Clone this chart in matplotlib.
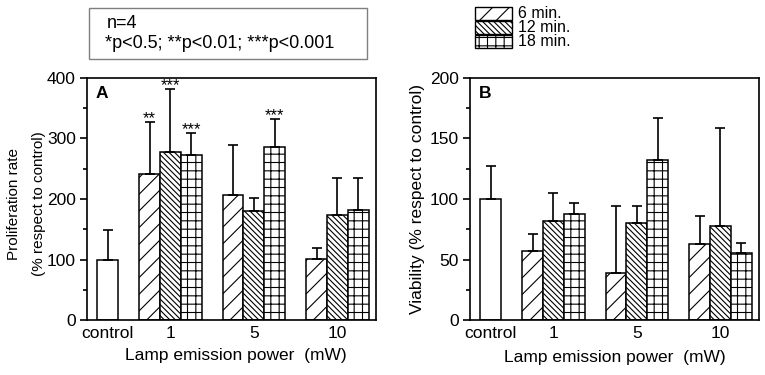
import numpy as np
import matplotlib.pyplot as plt
from matplotlib.patches import Rectangle
from matplotlib.ticker import MultipleLocator

plt.rcParams['font.family'] = ['Liberation Sans', 'DejaVu Sans']
plt.rcParams['hatch.linewidth'] = 0.8

groups = ['control', '1', '5', '10']
series = ['6 min.', '12 min.', '18 min.']
hatches = ['//', '\\\\\\\\\\\\', '++']

# panel A: proliferation rate (% of control), upper error only
prolif_control, prolif_control_err = 100, 48
prolif = [[241, 206, 101], [277, 180, 173], [273, 286, 182]]
prolif_err = [[86, 84, 18], [105, 22, 61], [36, 47, 52]]
prolif_stars = [['**', '', ''], ['***', '', ''], ['***', '***', '']]

# panel B: viability (% of control)
viab_control, viab_control_err = 100, 27
viab = [[57, 39, 63], [82, 80, 78], [88, 132, 55]]
viab_err = [[14, 55, 23], [23, 14, 81], [9, 35, 9]]

W, H = 765, 375
fs = 12.5
fig = plt.figure(figsize=(W / 100, H / 100), dpi=100)


def px_rect(left, top, right, bottom):
    return [left / W, 1 - bottom / H, (right - left) / W, (bottom - top) / H]


def draw_panel(ax, ctrl, ctrl_err, vals, errs, stars, ymax, letter):
    kw = dict(width=1, edgecolor='black', linewidth=1.1, facecolor='white')
    ekw = dict(elinewidth=1.2, capthick=1.2)
    ax.bar(1, ctrl, yerr=[[0], [ctrl_err]], capsize=3.5, error_kw=ekw, **kw)
    centers = np.array([4, 8, 12])
    for i in range(len(series)):
        x = centers + i - 1
        ax.bar(x, vals[i], yerr=[np.zeros(3), errs[i]], hatch=hatches[i],
               capsize=3.5, error_kw=ekw, **kw)
        if stars is None:
            continue
        for xi, v, e, s in zip(x, vals[i], errs[i], stars[i]):
            if s:
                ax.annotate(s, (xi, v + e), xytext=(0, -1), textcoords='offset points',
                            ha='center', va='baseline', fontsize=12)
    ax.set_xlim(0, 13.85)
    ax.set_ylim(0, ymax)
    ax.set_xticks([1, 4, 8, 12])
    ax.set_xticklabels(groups)
    ax.yaxis.set_major_locator(MultipleLocator(ymax / 4))
    ax.yaxis.set_minor_locator(MultipleLocator(ymax / 8))
    ax.tick_params(axis='y', which='major', direction='out', length=5, width=1.2,
                   labelsize=fs, pad=3)
    ax.tick_params(axis='y', which='minor', direction='out', length=3, width=1.2)
    ax.tick_params(axis='x', length=0, labelsize=fs, pad=4)
    for sp in ax.spines.values():
        sp.set_linewidth(1.2)
    ax.text(0.03, 0.935, letter, transform=ax.transAxes, fontsize=12.5,
            fontweight='bold', va='center', ha='left')


axA = fig.add_axes(px_rect(87, 78, 376, 320))
draw_panel(axA, prolif_control, prolif_control_err, prolif, prolif_err,
           prolif_stars, 400, 'A')
axA.set_ylabel('Proliferation rate\n(% respect to control)', fontsize=11,
               linespacing=2.0, va='center')
axA.yaxis.set_label_coords(-0.21, 0.48)
axA.set_xlabel('Lamp emission power  (mW)', fontsize=fs, va='center')
axA.xaxis.set_label_coords(0.516, -0.145)

axB = fig.add_axes(px_rect(470, 78, 759, 320))
draw_panel(axB, viab_control, viab_control_err, viab, viab_err, None, 200, 'B')
axB.set_ylabel('Viability (% respect to control)', fontsize=fs, va='center')
axB.yaxis.set_label_coords(-0.18, 0.5)
axB.set_xlabel('Lamp emission power  (mW)', fontsize=fs, va='center')
axB.xaxis.set_label_coords(0.5, -0.153)

# note box
fig.add_artist(Rectangle((89 / W, 1 - 59 / H), (367 - 89) / W, 51 / H,
                         transform=fig.transFigure, facecolor='none',
                         edgecolor='#7f7f7f', linewidth=1))
fig.text(107 / W, 1 - 23 / H, 'n=4', fontsize=13, va='center')
fig.text(105 / W, 1 - 44 / H, '*p<0.5; **p<0.01; ***p<0.001', fontsize=13,
         va='center')

# hatch legend
for i, lab in enumerate(series):
    top = 7 + 14 * i
    fig.add_artist(Rectangle((475 / W, 1 - (top + 13) / H), 37 / W, 13 / H,
                             transform=fig.transFigure, facecolor='white',
                             edgecolor='black', linewidth=1, hatch=hatches[i]))
    fig.text(518 / W, 1 - (top + 6.5) / H, lab, fontsize=11.5, va='center')

fig.savefig('out.png', dpi=100)
